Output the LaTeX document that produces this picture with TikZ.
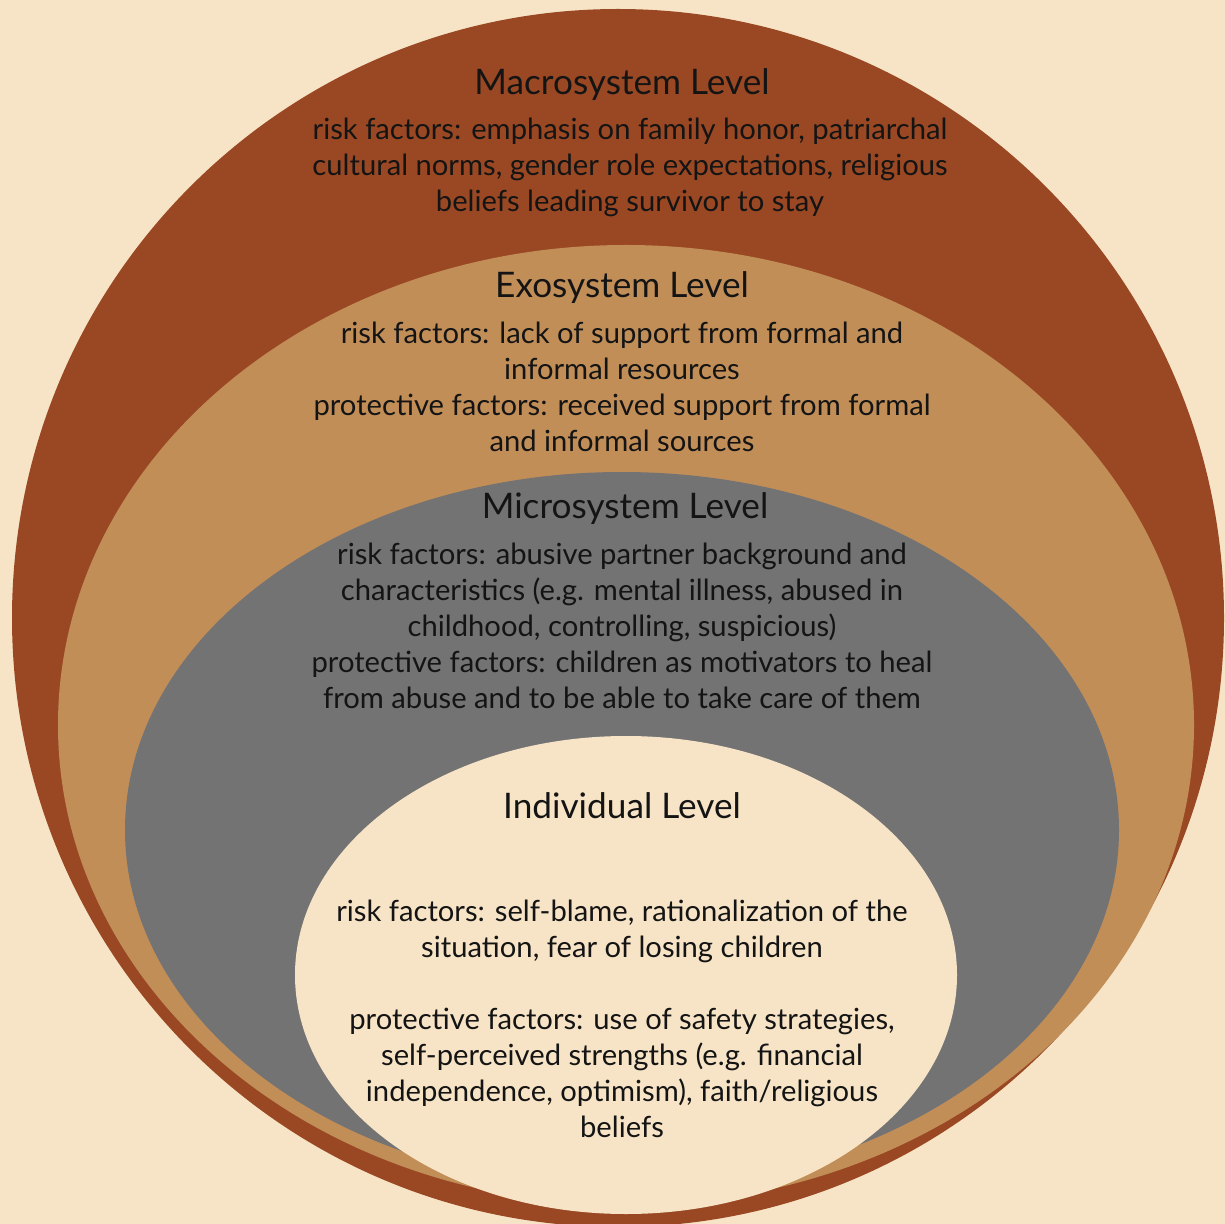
\documentclass[tikz,border=0pt]{standalone}
\usepackage{fontspec}
\setmainfont{Lato}
\usepackage{tikz}
\usepackage{xcolor}
\usetikzlibrary{positioning, calc}
\definecolor{cCream}{RGB}{247,228,198}
\definecolor{cBrown}{RGB}{154,72,35}
\definecolor{cTan}{RGB}{194,142,88}
\definecolor{cGray}{RGB}{115,115,115}
\definecolor{cInk}{RGB}{20,20,20}
\tikzset{
	lvltitle/.style={align=center, inner sep=0pt, text=cInk, font=\fontsize{17.6}{18}\selectfont},
	lvlbody/.style ={align=center, inner sep=0pt, text=cInk, font=\fontsize{14.6}{18}\selectfont},
}

\begin{document}
\begin{tikzpicture}[x=0.5pt, y=-0.5pt]
	\useasboundingbox (0,0) rectangle (1225,1224);
	\fill[cCream] (0,0) rectangle (1225,1224);
	% nested levels
	\fill[cBrown] (618,618) ellipse [x radius=606, y radius=609];
	\fill[cTan] (626,725) ellipse [x radius=568, y radius=480];
	\fill[cGray] (622,830) ellipse [x radius=497, y radius=358];
	\fill[cCream] (626,975) ellipse [x radius=331, y radius=239];
	% labels
	\node[lvltitle] (macroT) at (622,85) {Macrosystem Level};
	\node[lvlbody] (macroB) at (630,167) {risk factors: emphasis on family honor, patriarchal\\cultural norms, gender role expectations, religious\\beliefs leading survivor to stay};
	\node[lvltitle] (exoT) at (622,288) {Exosystem Level};
	\node[lvlbody] (exoB) at (622,387) {risk factors: lack of support from formal and\\informal resources\\protective factors: received support from formal\\and informal sources};
	\node[lvltitle] (microT) at (625,509) {Microsystem Level};
	\node[lvlbody] (microB) at (622,626) {risk factors: abusive partner background and\\characteristics (e.g. mental illness, abused in\\childhood, controlling, suspicious)\\protective factors: children as motivators to heal\\from abuse and to be able to take care of them};
	\node[lvltitle] (indT) at (622,806) {Individual Level};
	\node[lvlbody] (indB) at (622,1019) {risk factors: self-blame, rationalization of the\\situation, fear of losing children\\[18pt]protective factors: use of safety strategies,\\self-perceived strengths (e.g. financial\\independence, optimism), faith/religious\\beliefs};
\end{tikzpicture}
\end{document}
